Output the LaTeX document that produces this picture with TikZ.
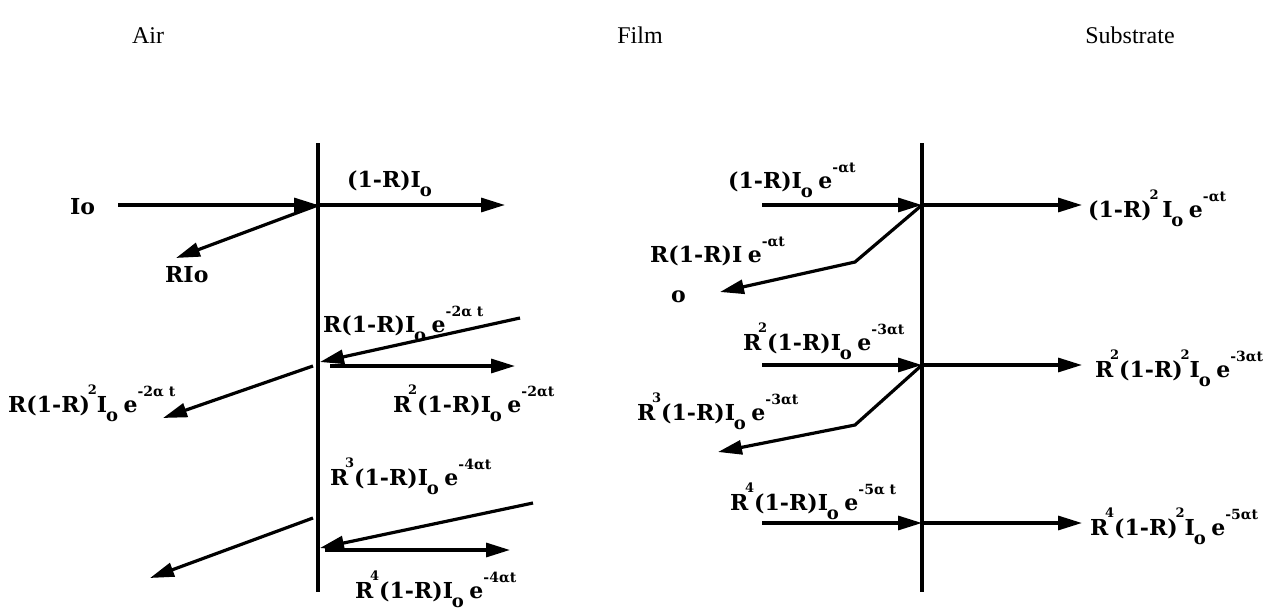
\documentclass[tikz,border=0pt]{standalone}
\usepackage{fontspec}
\setmainfont{Liberation Serif}
\newfontfamily\lblfont{DejaVu Serif}
\usetikzlibrary{arrows.meta}

\newcommand{\Io}{I\kern-0.05em\raisebox{-0.42em}{\fontsize{18}{18}\selectfont o}}
\newcommand{\eexp}[1]{\kern0.25em e\raisebox{0.7em}{\fontsize{14}{14}\selectfont #1}}
\newcommand{\Rp}[1]{R\kern-0.15em\raisebox{0.8em}{\fontsize{13}{13}\selectfont #1}}
\newcommand{\Sq}{\kern-0.1em\raisebox{0.8em}{\fontsize{13}{13}\selectfont 2}}

\begin{document}
\begin{tikzpicture}[
    x=1pt, y=-1pt,
    lbl/.style={anchor=base west, inner sep=0pt, font=\lblfont\bfseries\fontsize{22}{26}\selectfont},
    title/.style={anchor=base, inner sep=0pt, font=\fontsize{24}{28}\selectfont},
    ray/.style={-{Triangle[length=24pt,width=14pt]}, line width=3.2pt},
    wall/.style={line width=4.5pt},
]
\useasboundingbox (0,0) rectangle (1283,610);

% titles
\node[title] (air)   at (148,44)  {Air};
\node[title] (film)  at (640,44)  {Film};
\node[title] (subst) at (1130,44) {Substrate};

% interfaces
\coordinate (lt) at (318,143);
\coordinate (lb) at (318,592);
\coordinate (rt) at (922,143);
\coordinate (rb) at (922,592);
\draw[wall] (lt) -- (lb);
\draw[wall] (rt) -- (rb);

% air / film interface
\coordinate (p1) at (318,205);
\node[lbl] (io) at (70,214) {Io};
\coordinate (io0) at (118,205);
\draw[ray] (io0) -- (p1);
\coordinate (t1) at (505,205);
\draw[ray] (p1) -- (t1);
\node[lbl] (t1lbl) at (347,187) {(1-R)\Io};
\coordinate (r1) at (176,258);
\draw[ray] (p1) -- (r1);
\node[lbl] (r1lbl) at (165,282) {RIo};

\coordinate (b2s) at (520,318);
\coordinate (b2e) at (320,362);
\draw[ray] (b2s) -- (b2e);
\node[lbl] (b2lbl) at (323,332) {R(1-R)\Io\eexp{-2α t}};
\coordinate (f2s) at (330,366);
\coordinate (f2e) at (515,366);
\draw[ray] (f2s) -- (f2e);
\node[lbl] (f2lbl) at (393,412) {\Rp{2}(1-R)\Io\eexp{-2αt}};
\coordinate (o2s) at (313,366);
\coordinate (o2e) at (163,418);
\draw[ray] (o2s) -- (o2e);
\node[lbl] (o2lbl) at (8,412) {R(1-R)\Sq\Io\eexp{-2α t}};

\coordinate (b3s) at (533,503);
\coordinate (b3e) at (320,548);
\draw[ray] (b3s) -- (b3e);
\node[lbl] (b3lbl) at (330,485) {\Rp{3}(1-R)\Io\eexp{-4αt}};
\coordinate (f3s) at (325,550);
\coordinate (f3e) at (510,550);
\draw[ray] (f3s) -- (f3e);
\node[lbl] (f3lbl) at (355,598) {\Rp{4}(1-R)\Io\eexp{-4αt}};
\coordinate (o3s) at (313,518);
\coordinate (o3e) at (150,578);
\draw[ray] (o3s) -- (o3e);

% film / substrate interface
\coordinate (q1) at (922,205);
\coordinate (q1in) at (762,205);
\coordinate (q1out) at (1082,205);
\draw[ray] (q1in) -- (q1);
\draw[ray] (q1) -- (q1out);
\node[lbl] (q1inlbl) at (728,188) {(1-R)\Io\eexp{-αt}};
\node[lbl] (q1outlbl) at (1088,217) {(1-R)\Sq\,\Io\eexp{-αt}};
\coordinate (q1k) at (855,262);
\coordinate (q1r) at (720,292);
\draw[ray] (q1) -- (q1k) -- (q1r);
\node[lbl] (q1rlbl) at (650,262) {R(1-R)I\eexp{-αt}};
\node[lbl] (q1rsub) at (671,302) {o};

\coordinate (q2) at (922,365);
\coordinate (q2in) at (762,365);
\coordinate (q2out) at (1082,365);
\draw[ray] (q2in) -- (q2);
\draw[ray] (q2) -- (q2out);
\node[lbl] (q2inlbl) at (743,350) {\Rp{2}(1-R)\Io\eexp{-3αt}};
\node[lbl] (q2outlbl) at (1095,377) {\Rp{2}(1-R)\Sq\Io\eexp{-3αt}};
\coordinate (q2k) at (855,425);
\coordinate (q2r) at (718,452);
\draw[ray] (q2) -- (q2k) -- (q2r);
\node[lbl] (q2rlbl) at (637,420) {\Rp{3}(1-R)\Io\eexp{-3αt}};

\coordinate (q3) at (922,523);
\coordinate (q3in) at (762,523);
\coordinate (q3out) at (1082,523);
\draw[ray] (q3in) -- (q3);
\draw[ray] (q3) -- (q3out);
\node[lbl] (q3inlbl) at (730,510) {\Rp{4}(1-R)\Io\eexp{-5α t}};
\node[lbl] (q3outlbl) at (1090,535) {\Rp{4}(1-R)\Sq\Io\eexp{-5αt}};

\end{tikzpicture}
\end{document}
